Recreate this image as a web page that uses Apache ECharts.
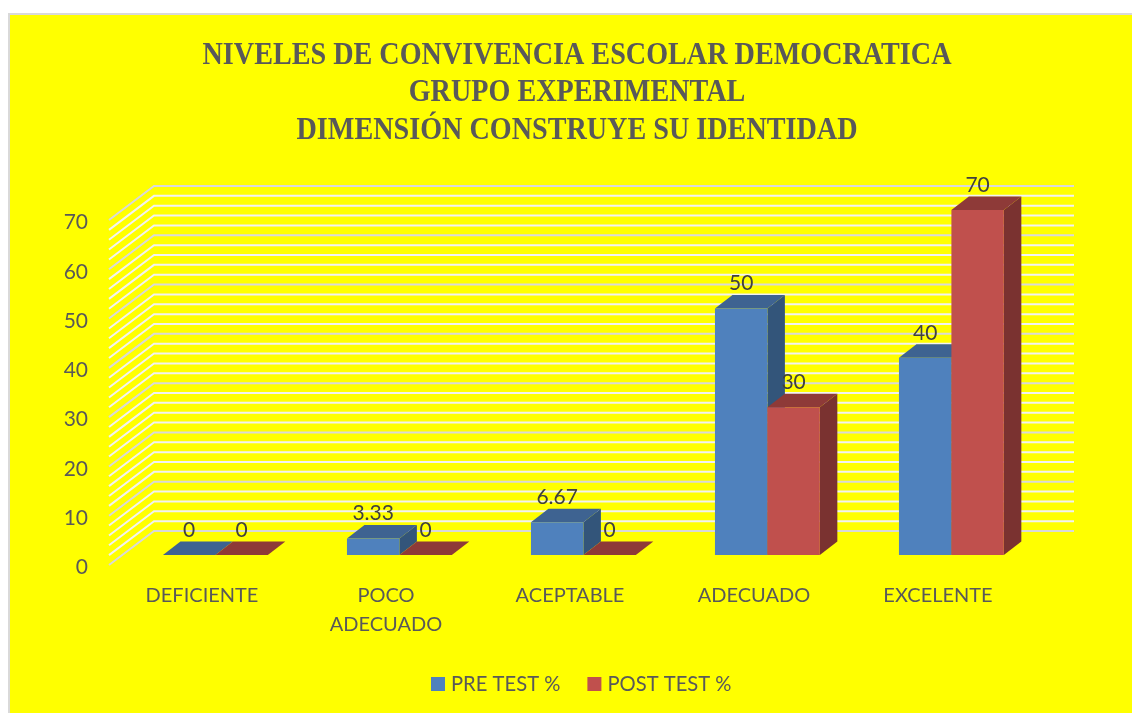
<!DOCTYPE html>
<html>
<head>
<meta charset="utf-8">
<style>
  html, body { margin: 0; padding: 0; background: #fff; }
  #chart { width: 1132px; height: 713px; }
</style>
<script src="https://cdn.jsdelivr.net/npm/echarts@6/dist/echarts.min.js"></script>
</head>
<body>
<div id="chart"></div>
<script>
const titleLines = ['NIVELES DE CONVIVENCIA ESCOLAR DEMOCRATICA', 'GRUPO EXPERIMENTAL', 'DIMENSIÓN CONSTRUYE SU IDENTIDAD']
const categories = ['DEFICIENTE', 'POCO\nADECUADO', 'ACEPTABLE', 'ADECUADO', 'EXCELENTE']
const preTest = [0, 3.33, 6.67, 50, 40]
const postTest = [0, 0, 0, 30, 70]
const gridTicks = [0, 2, 4, 6, 8, 10, 12, 14, 16, 18, 20, 22, 24, 26, 28, 30, 32, 34, 36, 38, 40, 42, 44, 46, 48, 50, 52, 54, 56, 58, 60, 62, 64, 66, 68, 70]

const chart = echarts.init(document.getElementById('chart'))

// projection of the fake 3D box
const wallDx = 45
const wallDy = -34
const barShiftX = 14.4
const barShiftY = -10
const barDx = 17.5
const barDy = -13.5

function renderWall(params, api) {
  const tick = api.value(1)
  const y = api.coord([0, tick])[1]
  const left = params.coordSys.x
  const right = left + params.coordSys.width
  return {
    type: 'polyline',
    shape: { points: [[left, y], [left + wallDx, y + wallDy], [right + wallDx, y + wallDy]] },
    style: { fill: 'none', stroke: tick % 10 === 0 ? '#D9D9D9' : '#F2F2F2', lineWidth: 2 }
  }
}

function barRenderer(slot, front, top, side) {
  return function (params, api) {
    const band = api.size([1, 0])[0]
    const width = band * 0.285
    const base = api.coord([api.value(0), 0])
    const head = api.coord([api.value(0), api.value(1)])
    const x0 = base[0] + barShiftX + (slot - 1) * width
    const x1 = x0 + width
    const y0 = base[1] + barShiftY
    const y1 = head[1] + barShiftY
    const val = api.value(1)
    return {
      type: 'group',
      children: [
        {
          type: 'polygon',
          shape: { points: [[x1, y0], [x1 + barDx, y0 + barDy], [x1 + barDx, y1 + barDy], [x1, y1]] },
          style: { fill: side }
        },
        {
          type: 'polygon',
          shape: { points: [[x0, y1], [x1, y1], [x1 + barDx, y1 + barDy], [x0 + barDx, y1 + barDy]] },
          style: { fill: top }
        },
        {
          type: 'rect',
          shape: { x: x0, y: y1, width: width, height: y0 - y1 },
          style: { fill: front }
        },
        {
          type: 'text',
          style: {
            text: String(val),
            x: x0 + width / 2,
            y: y1 - 25,
            align: 'center',
            verticalAlign: 'middle',
            fill: '#404040',
            font: '21px Lato'
          }
        }
      ]
    }
  }
}

chart.setOption({
  animation: false,
  backgroundColor: '#fff',
  graphic: [
    { type: 'rect', z: -10, shape: { x: 9, y: 14, width: 1140, height: 720 }, style: { fill: '#FFFF00', stroke: '#D9D9D9', lineWidth: 2 } },
    {
      type: 'text',
      z: 5,
      x: 577,
      y: 93,
      scaleX: 0.88,
      style: {
        text: titleLines.join('\n'),
        align: 'center',
        verticalAlign: 'middle',
        fill: '#595959',
        font: 'bold 32px "Liberation Serif"',
        lineHeight: 37.5
      }
    }
  ],
  legend: {
    data: ['PRE TEST %', 'POST TEST %'],
    left: 431,
    top: 674,
    padding: 0,
    icon: 'rect',
    itemWidth: 14,
    itemHeight: 14,
    itemGap: 27,
    textStyle: { fontFamily: 'Lato', fontSize: 20.2, color: '#595959', padding: [0, 0, 0, 1] }
  },
  grid: { left: 109, top: 220, width: 920, height: 345 },
  xAxis: {
    type: 'category',
    data: categories,
    axisLine: { show: false },
    axisTick: { show: false },
    axisLabel: { interval: 0, margin: 16, fontFamily: 'Lato', fontSize: 20, lineHeight: 29, color: '#595959', padding: [0, 0, 0, 2] }
  },
  yAxis: {
    type: 'value',
    min: 0,
    max: 70,
    interval: 10,
    axisLine: { show: false },
    axisTick: { show: false },
    splitLine: { show: false },
    axisLabel: { margin: 21, fontFamily: 'Lato', fontSize: 21, color: '#595959', verticalAlign: 'top', lineHeight: 5 }
  },
  series: [
    {
      name: 'wall',
      type: 'custom',
      silent: true,
      z: 1,
      data: gridTicks.map(t => [0, t]),
      renderItem: renderWall
    },
    {
      name: 'PRE TEST %',
      type: 'custom',
      z: 2,
      itemStyle: { color: '#4F81BD' },
      data: preTest.map((v, i) => [i, v]),
      renderItem: barRenderer(0, '#4F81BD', '#3E6391', '#33557A')
    },
    {
      name: 'POST TEST %',
      type: 'custom',
      z: 3,
      itemStyle: { color: '#C0504D' },
      data: postTest.map((v, i) => [i, v]),
      renderItem: barRenderer(1, '#C0504D', '#8E3A38', '#7A3230')
    }
  ]
})
</script>
</body>
</html>
